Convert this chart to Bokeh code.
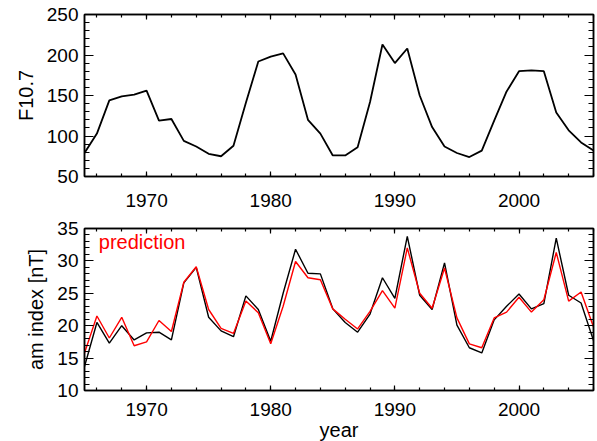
from bokeh.plotting import figure
from bokeh.models import Range1d, LinearAxis, SingleIntervalTicker, Label
from bokeh.layouts import column
from bokeh.embed import file_html
from bokeh.resources import INLINE

years = list(range(1965, 2007))

f107 = [79, 103, 144, 149, 151, 156, 119, 121, 94, 87, 78, 75, 88, 141, 192, 198, 202,
        176, 120, 103, 76, 76, 86, 142, 213, 190, 208, 150, 111, 87, 79, 74, 82, 119,
        155, 180, 181, 180, 129, 107, 92, 82]

am_obs = [13.7, 20.5, 17.3, 20.0, 17.8, 18.9, 19.0, 17.8, 26.6, 29.0, 21.3, 19.2, 18.3,
          24.6, 22.5, 17.6, 25.0, 31.8, 28.1, 28.0, 22.6, 20.5, 19.0, 21.8, 27.4, 24.2,
          33.8, 24.7, 22.5, 29.7, 20.1, 16.6, 15.8, 20.9, 23.0, 24.9, 22.6, 23.4, 33.5,
          24.7, 23.5, 17.7]

am_pred = [15.8, 21.5, 18.1, 21.3, 16.9, 17.5, 20.8, 19.1, 26.7, 29.1, 22.5, 19.6, 18.8,
           23.8, 22.0, 17.2, 23.0, 29.9, 27.4, 27.1, 22.6, 21.0, 19.5, 22.2, 25.4, 22.7,
           32.0, 25.0, 22.7, 28.9, 21.2, 17.2, 16.6, 21.2, 22.1, 24.4, 22.1, 24.0, 31.3,
           23.8, 25.2, 19.8]

FONT = "Liberation Sans"
TICK_FS = "19px"
LAB_FS = "20px"


def style_axes(p, ytick_interval, xlabel_standoff):
    xt = SingleIntervalTicker(interval=10, num_minor_ticks=5)
    yt = SingleIntervalTicker(interval=ytick_interval, num_minor_ticks=5)
    p.xaxis.ticker = xt
    p.yaxis.ticker = yt
    for ax in p.xaxis + p.yaxis:
        ax.axis_line_color = "black"
        ax.axis_line_width = 1.5
        ax.major_tick_line_color = "black"
        ax.minor_tick_line_color = "black"
        ax.major_tick_line_width = 1.2
        ax.minor_tick_line_width = 1.2
        ax.major_label_text_font = FONT
        ax.major_label_text_font_size = TICK_FS
        ax.major_label_text_color = "black"
        ax.axis_label_text_font = FONT
        ax.axis_label_text_font_size = LAB_FS
        ax.axis_label_text_font_style = "normal"
        ax.axis_label_text_color = "black"
    for ax in p.xaxis:
        ax.major_tick_in = 5
        ax.major_tick_out = 0
        ax.minor_tick_in = 3
        ax.minor_tick_out = 0
        ax.major_label_standoff = xlabel_standoff
        ax.axis_label_standoff = 0
    for ax in p.yaxis:
        ax.major_tick_in = 9
        ax.major_tick_out = 0
        ax.minor_tick_in = 5
        ax.minor_tick_out = 0
        ax.major_label_standoff = 6
        ax.axis_label_standoff = 7
    # mirror axes (box ticks)
    top = LinearAxis(ticker=SingleIntervalTicker(interval=10, num_minor_ticks=5),
                     major_label_text_font_size="0px", major_label_standoff=0,
                     major_tick_in=5, major_tick_out=0, minor_tick_in=3, minor_tick_out=0,
                     axis_line_width=1.5, major_tick_line_width=1.2, minor_tick_line_width=1.2)
    right = LinearAxis(ticker=SingleIntervalTicker(interval=ytick_interval, num_minor_ticks=5),
                       major_label_text_font_size="0px", major_label_standoff=0,
                       major_tick_in=9, major_tick_out=0, minor_tick_in=5, minor_tick_out=0,
                       axis_line_width=1.5, major_tick_line_width=1.2, minor_tick_line_width=1.2)
    p.add_layout(top, "above")
    p.add_layout(right, "right")
    p.xgrid.visible = False
    p.ygrid.visible = False
    p.outline_line_color = "black"
    p.outline_line_width = 1.5


p1 = figure(frame_width=509, frame_height=162, output_backend="svg", toolbar_location=None,
            x_range=Range1d(1965, 2006), y_range=Range1d(50, 250),
            min_border_left=84, min_border_right=2, min_border_top=14, min_border_bottom=42)
p1.line(years, f107, line_color="black", line_width=1.8)
p1.yaxis.axis_label = "F10.7"
style_axes(p1, 50, 17)

p2 = figure(frame_width=509, frame_height=162, output_backend="svg", toolbar_location=None,
            x_range=Range1d(1965, 2006), y_range=Range1d(10, 35),
            min_border_left=84, min_border_right=2, min_border_top=10, min_border_bottom=40)
p2.line(years, am_obs, line_color="black", line_width=1.4)
p2.line(years, am_pred, line_color="red", line_width=1.4)
p2.yaxis.axis_label = "am index [nT]"
p2.xaxis.axis_label = "year"
style_axes(p2, 5, 12)
p2.add_layout(Label(x=1966.15, y=32.9, text="prediction", text_color="red",
                    text_font=FONT, text_font_size=LAB_FS, text_baseline="middle"))

layout = column(p1, p2, spacing=0)
open("out.html", "w").write(file_html(layout, INLINE))
